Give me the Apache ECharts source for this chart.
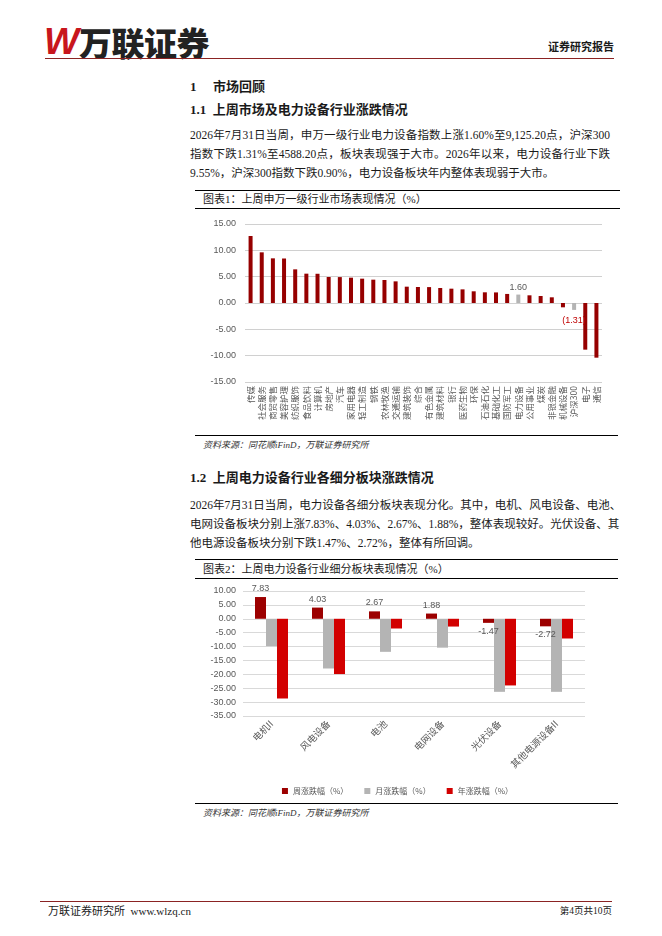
<!DOCTYPE html>
<html>
<head>
	<meta charset="utf-8">
	<title>电力设备行业周报</title>
	<script src="https://cdn.jsdelivr.net/npm/echarts@6.0.0/dist/echarts.min.js"></script>
	<style>
		body{margin:0;background:#fff;}
		.page{position:relative;width:662px;height:936px;overflow:hidden;font-family:"Liberation Serif","Noto Sans CJK SC",serif;color:#1a1a1a;}
		.t{position:absolute;white-space:nowrap;line-height:16px;}
		.hr{position:absolute;height:0;border-top:1px solid #000;}
		.h{font-weight:bold;font-size:13px;}
		.p{left:190px;width:420px;font-size:11.5px;text-align:justify;text-align-last:justify;}
		.p.last{text-align-last:left;}
		.cap{left:203px;font-size:11px;}
		.src{left:203px;font-size:9px;font-style:italic;color:#333;}
		.chart{position:absolute;left:175px;width:445px;}
	</style>
</head>
<body>
<div class="page">
	<!--页眉-->
	<div class="t" style="left:44px;top:22px;line-height:40px;font-size:37px;font-weight:bold;font-style:italic;color:#c8161d;font-family:'Liberation Sans',sans-serif;">W</div>
	<div class="t" style="left:79px;top:22px;line-height:40px;font-size:33px;font-weight:900;letter-spacing:-0.5px;color:#222;font-family:'Noto Sans CJK SC',sans-serif;">万联证券</div>
	<div class="t" style="right:48px;top:39px;font-size:11px;font-weight:bold;">证券研究报告</div>
	<div class="hr" style="left:45px;width:569px;top:58px;border-top:1.5px solid #8b2323;"></div>

	<div class="t h" style="left:190px;top:79px;">1</div>
	<div class="t h" style="left:213px;top:79px;">市场回顾</div>
	<div class="t h" style="left:190px;top:102px;">1.1&nbsp; 上周市场及电力设备行业涨跌情况</div>
	<div class="t p" style="top:127px;">2026年7月31日当周，申万一级行业电力设备指数上涨1.60%至9,125.20点，沪深300</div>
	<div class="t p" style="top:146px;">指数下跌1.31%至4588.20点，板块表现强于大市。2026年以来，电力设备行业下跌</div>
	<div class="t p last" style="top:165px;">9.55%，沪深300指数下跌0.90%，电力设备板块年内整体表现弱于大市。</div>

	<div class="hr" style="left:195px;width:425px;top:190px;"></div>
	<div class="t cap" style="top:191px;">图表1：上周申万一级行业市场表现情况（%）</div>
	<div class="hr" style="left:195px;width:425px;top:208px;"></div>
	<div class="chart" id="industry_chart" style="top:210px;height:224px;"></div>
	<div class="hr" style="left:195px;width:423px;top:435px;"></div>
	<div class="t src" style="top:437px;">资料来源：同花顺iFinD，万联证券研究所</div>

	<div class="t h" style="left:190px;top:470px;">1.2&nbsp; 上周电力设备行业各细分板块涨跌情况</div>
	<div class="t p" style="top:497px;">2026年7月31日当周，电力设备各细分板块表现分化。其中，电机、风电设备、电池、</div>
	<div class="t p" style="top:516px;">电网设备板块分别上涨7.83%、4.03%、2.67%、1.88%，整体表现较好。光伏设备、其</div>
	<div class="t p last" style="top:535px;">他电源设备板块分别下跌1.47%、2.72%，整体有所回调。</div>

	<div class="hr" style="left:195px;width:423px;top:559px;"></div>
	<div class="t cap" style="top:561px;">图表2：上周电力设备行业细分板块表现情况（%）</div>
	<div class="hr" style="left:195px;width:423px;top:578px;"></div>
	<div class="chart" id="sub_chart" style="top:580px;height:222px;"></div>
	<div class="hr" style="left:195px;width:423px;top:803px;"></div>
	<div class="t src" style="top:805px;">资料来源：同花顺iFinD，万联证券研究所</div>

	<!--页脚-->
	<div class="hr" style="left:40px;width:572px;top:901px;border-top:1.5px solid #8b2323;"></div>
	<div class="t" style="left:48px;top:903px;font-size:11px;">万联证券研究所&nbsp; www.wlzq.cn</div>
	<div class="t" style="right:50px;top:903px;font-size:9.5px;">第4页共10页</div>
</div>

<script>
	// 图表1：申万一级行业周涨跌幅
	var industryNames = ['传媒','社会服务','商贸零售','美容护理','纺织服饰','食品饮料','计算机','房地产','汽车','家用电器','轻工制造','钢铁','农林牧渔','交通运输','建筑装饰','综合','有色金属','建筑材料','银行','医药生物','环保','石油石化','基础化工','国防军工','电力设备','公用事业','煤炭','非银金融','机械设备','沪深300','电子','通信'];
	var industryChange = [12.72, 9.62, 8.48, 8.45, 6.39, 5.57, 5.55, 4.94, 4.92, 4.81, 4.62, 4.43, 4.37, 4.11, 3.10, 3.04, 3.02, 2.85, 2.72, 2.59, 2.22, 2.03, 2.01, 1.72, 1.60, 1.46, 1.33, 1.08, -0.82, -1.31, -8.86, -10.38];
	var highlightNames = ['电力设备','沪深300'];
	var industryAxis = [-15, 15, 5];

	// 图表2：电力设备细分板块
	var subNames = ['电机II','风电设备','电池','电网设备','光伏设备','其他电源设备II'];
	var weekChange = [7.83, 4.03, 2.67, 1.88, -1.47, -2.72];
	var monthChange = [-9.84, -17.9, -11.9, -10.4, -26.3, -26.3];
	var yearChange = [-28.7, -19.9, -3.5, -2.8, -24.0, -7.1];
	var subSeriesNames = ['周涨跌幅（%）','月涨跌幅（%）','年涨跌幅（%）'];
	var subAxis = [-35, 10, 5];

	var axisFont = 'Liberation Sans';
	var cjkFont = 'Noto Sans CJK SC';

	function fmt2(v){
		return v.toFixed(2);
	}

	var industryChart = echarts.init(document.getElementById('industry_chart'));
	var industryData = industryChange.map(function(v, i){
		var item = {value: v};
		if(highlightNames.indexOf(industryNames[i]) > -1){
			item.itemStyle = {color: '#b4b4b4'};
			item.label = {
				show: true,
				position: v >= 0 ? 'top' : 'bottom',
				distance: v >= 0 ? 3 : 6,
				fontSize: 9,
				fontFamily: axisFont,
				color: v >= 0 ? '#595959' : '#c00000',
				formatter: function(p){
					return p.value >= 0 ? fmt2(p.value) : '(' + fmt2(-p.value) + ')';
				}
			};
		}
		return item;
	});
	industryChart.setOption({
		animation: false,
		grid: {left: 70, top: 14, width: 357, height: 158},
		xAxis: {
			type: 'category',
			data: industryNames,
			axisLine: {show: false, onZero: false},
			axisTick: {show: false},
			axisLabel: {interval: 0, rotate: 90, fontSize: 8.5, margin: 4, color: '#595959', fontFamily: cjkFont}
		},
		yAxis: {
			type: 'value',
			min: industryAxis[0],
			max: industryAxis[1],
			interval: industryAxis[2],
			axisLine: {show: false},
			axisTick: {show: false},
			axisLabel: {fontSize: 9, margin: 9, color: '#595959', fontFamily: axisFont, formatter: fmt2},
			splitLine: {lineStyle: {color: '#d0d0d0'}}
		},
		series: [{
			type: 'bar',
			barWidth: 4,
			itemStyle: {color: '#960000'},
			data: industryData
		}]
	});

	var subChart = echarts.init(document.getElementById('sub_chart'));
	subChart.setOption({
		animation: false,
		color: ['#9c0000', '#b4b4b4', '#d20000'],
		grid: {left: 68, top: 11, width: 342, height: 125},
		legend: {
			data: subSeriesNames,
			left: 'center',
			top: 202,
			icon: 'rect',
			itemWidth: 6,
			itemHeight: 6,
			itemGap: 16,
			textStyle: {fontSize: 8, color: '#595959', fontFamily: cjkFont}
		},
		xAxis: {
			type: 'category',
			data: subNames,
			axisLine: {show: false, onZero: false},
			axisTick: {show: false},
			axisLabel: {interval: 0, rotate: 45, fontSize: 9.5, margin: 6, color: '#595959', fontFamily: cjkFont}
		},
		yAxis: {
			type: 'value',
			min: subAxis[0],
			max: subAxis[1],
			interval: subAxis[2],
			axisLine: {show: false},
			axisTick: {show: false},
			axisLabel: {fontSize: 9, margin: 7, color: '#595959', fontFamily: axisFont, formatter: fmt2},
			splitLine: {lineStyle: {color: '#d9d9d9'}}
		},
		series: [{
			name: subSeriesNames[0],
			type: 'bar',
			barWidth: 11,
			barGap: '0%',
			data: weekChange.map(function(v){
				return {value: v, label: {position: v >= 0 ? 'top' : 'bottom'}};
			}),
			label: {show: true, distance: 4, fontSize: 9, color: '#595959', fontFamily: axisFont, formatter: function(p){ return fmt2(p.value); }}
		}, {
			name: subSeriesNames[1],
			type: 'bar',
			barWidth: 11,
			barGap: '0%',
			data: monthChange
		}, {
			name: subSeriesNames[2],
			type: 'bar',
			barWidth: 11,
			barGap: '0%',
			data: yearChange
		}]
	});
</script>
</body>
</html>
